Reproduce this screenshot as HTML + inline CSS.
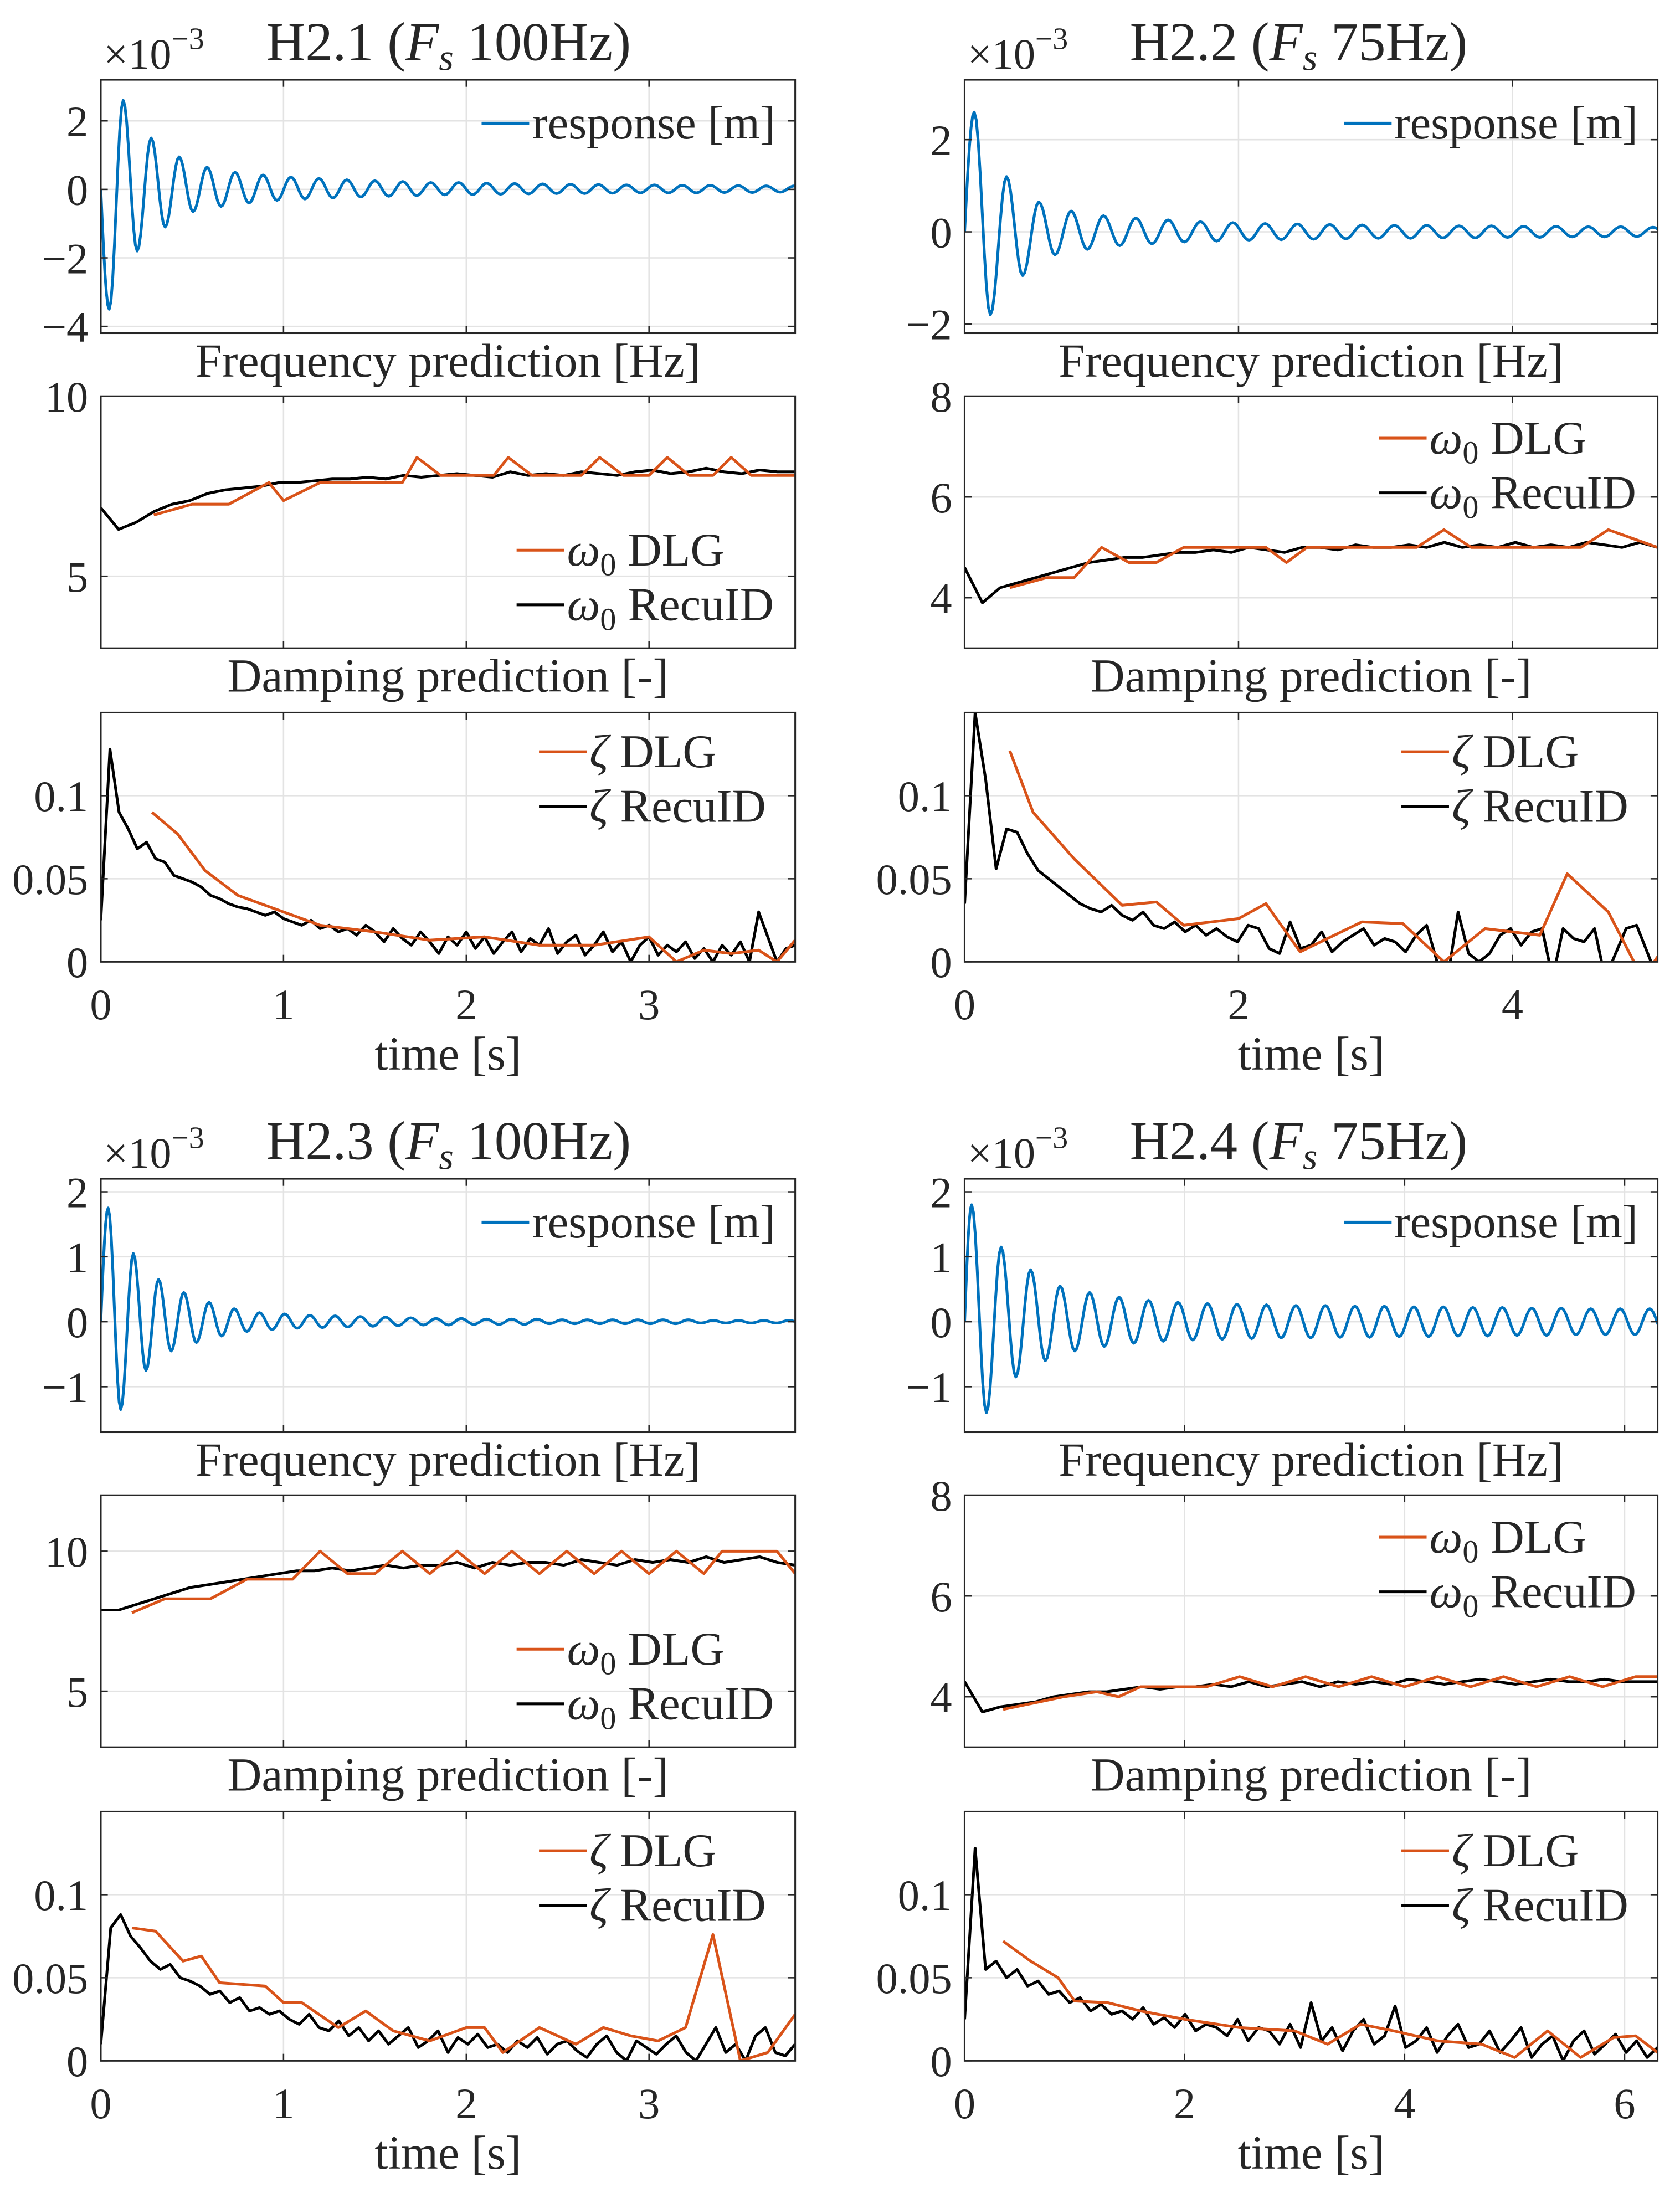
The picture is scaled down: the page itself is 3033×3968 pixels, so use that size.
<!DOCTYPE html>
<html><head><meta charset="utf-8">
<style>
html,body{margin:0;padding:0;background:#fff;}
svg{display:block;}
text{font-family:"Liberation Serif",serif;fill:#262626;}
</style></head>
<body>
<svg id="fig" xmlns="http://www.w3.org/2000/svg" width="3033" height="3968" viewBox="0 0 1200 1570" preserveAspectRatio="none"></svg>
<script>
// ---------- DATA ----------
const resp1 = [-3.5,2.6,-1.8,1.5,-1.1,0.95,-0.65,0.65,-0.5,0.5,-0.4,0.42,-0.32,0.36,-0.28,0.32,-0.25,0.28,-0.22,0.25,-0.2,0.23,-0.18,0.2,-0.16,0.2,-0.15,0.18,-0.14,0.17,-0.13,0.16,-0.12,0.15,-0.12,0.14,-0.11,0.13,-0.1,0.13,-0.1,0.12,-0.1,0.12,-0.09,0.11,-0.09,0.1,-0.08,0.1,-0.08];
const resp1Meta = [0.046, 0.0765];
const resp2 = [2.6,-1.8,1.2,-0.95,0.65,-0.5,0.45,-0.38,0.35,-0.3,0.3,-0.26,0.26,-0.22,0.22,-0.2,0.2,-0.18,0.18,-0.17,0.17,-0.16,0.16,-0.15,0.15,-0.14,0.14,-0.14,0.14,-0.13,0.13,-0.13,0.13,-0.12,0.12,-0.12,0.12,-0.11,0.11,-0.11,0.11,-0.1,0.1,-0.1];
const resp2Meta = [0.07, 0.118];
const resp3 = [1.75,-1.35,1.05,-0.75,0.65,-0.45,0.45,-0.32,0.3,-0.22,0.2,-0.15,0.14,-0.12,0.12,-0.1,0.1,-0.09,0.09,-0.08,0.08,-0.07,0.07,-0.06,0.06,-0.05,0.05,-0.05,0.05,-0.04,0.04,-0.04,0.04,-0.04,0.04,-0.03,0.03,-0.03,0.03,-0.03,0.03,-0.03,0.03,-0.03,0.03,-0.03,0.03,-0.02,0.02,-0.02,0.02,-0.02,0.02,-0.02,0.02,-0.02,0.02];
const resp3Meta = [0.04, 0.069];
const resp4 = [1.8,-1.4,1.15,-0.85,0.8,-0.6,0.55,-0.45,0.45,-0.38,0.38,-0.33,0.33,-0.3,0.3,-0.28,0.28,-0.27,0.27,-0.26,0.26,-0.25,0.25,-0.25,0.25,-0.24,0.24,-0.24,0.24,-0.23,0.23,-0.23,0.23,-0.22,0.22,-0.22,0.22,-0.21,0.21,-0.21,0.21,-0.2,0.2,-0.2,0.2,-0.2,0.2,-0.2,0.2];
const resp4Meta = [0.064, 0.134];

const f1DlgT = [0.29,0.5,0.7,0.92,1.0,1.2,1.5,1.65,1.73,1.86,2.15,2.23,2.36,2.63,2.73,2.86,3.0,3.1,3.22,3.35,3.45,3.56,3.68,3.8];
const f1DlgV = [6.7,7.0,7.0,7.6,7.1,7.6,7.6,7.6,8.3,7.8,7.8,8.3,7.8,7.8,8.3,7.8,7.8,8.3,7.8,7.8,8.3,7.8,7.8,7.8];
const f1Recu = [6.9,6.3,6.5,6.8,7.0,7.1,7.3,7.4,7.45,7.5,7.6,7.6,7.65,7.7,7.7,7.75,7.7,7.8,7.75,7.8,7.85,7.8,7.75,7.9,7.8,7.85,7.8,7.9,7.85,7.8,7.9,7.95,7.85,7.9,8.0,7.9,7.85,7.95,7.9,7.9];
const f2DlgT = [0.33,0.6,0.8,1.0,1.2,1.4,1.6,2.2,2.35,2.5,3.3,3.5,3.7,4.5,4.7,5.06];
const f2DlgV = [4.2,4.4,4.4,5.0,4.7,4.7,5.0,5.0,4.7,5.0,5.0,5.35,5.0,5.0,5.35,5.0];
const f2Recu = [4.6,3.9,4.2,4.3,4.4,4.5,4.6,4.7,4.75,4.8,4.8,4.85,4.9,4.9,4.95,4.9,5.0,4.95,4.9,5.0,5.0,4.95,5.05,5.0,5.0,5.05,5.0,5.1,5.0,5.05,5.0,5.1,5.0,5.05,5.0,5.1,5.05,5.0,5.1,5.0];
const f3DlgT = [0.17,0.35,0.6,0.8,1.05,1.2,1.35,1.5,1.65,1.8,1.95,2.1,2.25,2.4,2.55,2.7,2.85,3.0,3.15,3.3,3.4,3.7,3.8];
const f3DlgV = [7.8,8.3,8.3,9.0,9.0,10.0,9.2,9.2,10.0,9.2,10.0,9.2,10.0,9.2,10.0,9.2,10.0,9.2,10.0,9.2,10.0,10.0,9.2];
const f3Recu = [7.9,7.9,8.1,8.3,8.5,8.7,8.8,8.9,9.0,9.1,9.2,9.3,9.3,9.4,9.3,9.4,9.5,9.4,9.5,9.5,9.6,9.4,9.6,9.5,9.6,9.6,9.5,9.7,9.6,9.5,9.7,9.6,9.7,9.6,9.8,9.6,9.7,9.8,9.6,9.5];
const f4DlgT = [0.35,0.9,1.2,1.4,1.6,2.2,2.5,2.8,3.1,3.4,3.7,4.0,4.3,4.6,4.9,5.2,5.5,5.8,6.1,6.3];
const f4DlgV = [3.75,4.0,4.1,4.0,4.2,4.2,4.4,4.2,4.4,4.2,4.4,4.2,4.4,4.2,4.4,4.2,4.4,4.2,4.4,4.4];
const f4Recu = [4.3,3.7,3.8,3.85,3.9,4.0,4.05,4.1,4.1,4.15,4.2,4.15,4.2,4.2,4.25,4.2,4.3,4.2,4.25,4.3,4.2,4.3,4.25,4.3,4.25,4.35,4.3,4.25,4.3,4.35,4.3,4.25,4.3,4.35,4.3,4.3,4.35,4.3,4.3,4.3];

const d1DlgT = [0.28,0.42,0.57,0.75,1.0,1.2,1.5,1.8,2.1,2.4,2.7,3.0,3.15,3.3,3.45,3.6,3.7,3.8];
const d1DlgV = [0.09,0.077,0.055,0.04,0.03,0.022,0.018,0.013,0.015,0.01,0.01,0.015,0.0,0.007,0.005,0.007,0.0,0.013];
const d1Recu = [0.025,0.128,0.09,0.08,0.068,0.072,0.062,0.06,0.052,0.05,0.048,0.045,0.04,0.038,0.035,0.033,0.032,0.03,0.028,0.03,0.026,0.024,0.022,0.025,0.02,0.022,0.018,0.02,0.016,0.022,0.018,0.012,0.02,0.014,0.01,0.018,0.012,0.005,0.015,0.01,0.018,0.008,0.015,0.005,0.012,0.018,0.006,0.014,0.01,0.02,0.005,0.012,0.016,0.004,0.01,0.018,0.006,0.012,0.0,0.01,0.015,0.004,0.01,0.006,0.012,0.002,0.008,0.0,0.01,0.004,0.012,0.0,0.03,0.015,0.0,0.008,0.01];
const d2DlgT = [0.33,0.5,0.8,1.0,1.15,1.4,1.6,2.0,2.2,2.45,2.9,3.2,3.5,3.8,4.2,4.4,4.7,4.95,5.06];
const d2DlgV = [0.127,0.09,0.062,0.046,0.034,0.036,0.022,0.026,0.035,0.006,0.024,0.023,0.0,0.02,0.016,0.053,0.03,-0.01,0.003];
const d2Recu = [0.035,0.15,0.11,0.056,0.08,0.078,0.065,0.055,0.05,0.045,0.04,0.035,0.032,0.03,0.034,0.028,0.025,0.03,0.022,0.02,0.024,0.018,0.022,0.016,0.02,0.015,0.012,0.022,0.02,0.008,0.005,0.024,0.008,0.01,0.018,0.006,0.012,0.016,0.02,0.01,0.014,0.012,0.006,0.016,0.022,0.0,-0.01,0.03,0.005,0.0,0.005,0.016,0.02,0.01,0.018,0.02,-0.01,0.02,0.014,0.012,0.02,-0.01,0.005,0.02,0.022,0.006,-0.01];
const d3DlgT = [0.17,0.3,0.45,0.55,0.65,0.9,1.0,1.1,1.3,1.45,1.6,1.8,2.0,2.1,2.2,2.4,2.6,2.75,2.9,3.05,3.2,3.35,3.5,3.65,3.8];
const d3DlgV = [0.08,0.078,0.06,0.063,0.047,0.045,0.035,0.035,0.02,0.03,0.018,0.012,0.02,0.02,0.005,0.02,0.01,0.02,0.015,0.012,0.02,0.076,0.0,0.005,0.028];
const d3Recu = [0.01,0.08,0.088,0.075,0.068,0.06,0.055,0.058,0.05,0.048,0.045,0.04,0.042,0.035,0.038,0.03,0.032,0.028,0.03,0.025,0.022,0.028,0.02,0.018,0.024,0.015,0.02,0.012,0.018,0.01,0.015,0.02,0.008,0.012,0.018,0.005,0.014,0.01,0.016,0.008,0.01,0.005,0.012,0.008,0.014,0.004,0.01,0.012,0.006,0.002,0.01,0.015,0.005,0.0,0.012,0.008,0.004,0.01,0.015,0.005,0.0,0.01,0.02,0.005,0.01,0.0,0.015,0.02,0.005,0.003,0.01];
const d4DlgT = [0.35,0.6,0.85,1.0,1.3,1.6,2.0,2.5,3.0,3.3,3.6,3.9,4.3,4.7,5.0,5.3,5.6,5.9,6.1,6.3];
const d4DlgV = [0.072,0.06,0.05,0.036,0.035,0.03,0.025,0.02,0.018,0.01,0.022,0.018,0.012,0.01,0.002,0.018,0.002,0.014,0.015,0.005];
const d4Recu = [0.025,0.128,0.055,0.06,0.05,0.055,0.045,0.048,0.04,0.042,0.035,0.038,0.03,0.034,0.028,0.03,0.025,0.032,0.022,0.026,0.02,0.028,0.018,0.022,0.02,0.015,0.025,0.012,0.02,0.018,0.01,0.022,0.008,0.035,0.012,0.02,0.006,0.018,0.025,0.01,0.015,0.033,0.008,0.012,0.02,0.005,0.015,0.022,0.008,0.01,0.018,0.005,0.012,0.02,0.002,0.01,0.015,0.0,0.012,0.018,0.004,0.01,0.016,0.005,0.012,0.002,0.008];

const xTicks1 = [0,1,2,3], xTicks2 = [0,2,4], xTicks4 = [0,2,4,6];
const xMax = [3.8, 5.06, 3.8, 6.3];

// ---------- DRAWING ----------
const NS = "http://www.w3.org/2000/svg";
const svg = document.getElementById('fig');
const TICK = 31, LAB = 34, LEG = 33.5;
function el(tag, attrs, parent){ const e=document.createElementNS(NS,tag); for(const k in attrs) e.setAttribute(k,attrs[k]); (parent||svg).appendChild(e); return e; }
function txt(str, x, y, size, anchor, parent){ const t=el('text',{x:x,y:y,'font-size':size,'text-anchor':anchor||'start'},parent); t.textContent=str; return t; }
let clipId=0;

function axes(box, xlim, ylim, xticks, yticks, ylabels, showX, name){
  const g = el('g',{});
  
  
  const [x0,y0,x1,y1]=box;
  const sx=v=>x0+(v-xlim[0])/(xlim[1]-xlim[0])*(x1-x0);
  const sy=v=>y1-(v-ylim[0])/(ylim[1]-ylim[0])*(y1-y0);
  el('rect',{x:x0,y:y0,width:x1-x0,height:y1-y0,fill:'#fff'},g);
  xticks.forEach(v=>{ if(v>xlim[0]&&v<xlim[1]) el('line',{x1:sx(v),x2:sx(v),y1:y0,y2:y1,stroke:'#e3e3e3','stroke-width':1},g); });
  yticks.forEach(v=>{ if(v>ylim[0]&&v<ylim[1]) el('line',{x1:x0,x2:x1,y1:sy(v),y2:sy(v),stroke:'#e3e3e3','stroke-width':1},g); });
  const id='c'+(clipId++);
  const cp=el('clipPath',{id:id},g); el('rect',{x:x0,y:y0,width:x1-x0,height:y1-y0},cp);
  const plot=el('g',{'clip-path':'url(#'+id+')'},g);
  const frame=el('rect',{x:x0,y:y0,width:x1-x0,height:y1-y0,fill:'none',stroke:'#262626','stroke-width':1.2},g);
  
  
  xticks.forEach(v=>{ el('line',{x1:sx(v),x2:sx(v),y1:y1,y2:y1-5,stroke:'#262626','stroke-width':1},g); el('line',{x1:sx(v),x2:sx(v),y1:y0,y2:y0+5,stroke:'#262626','stroke-width':1},g);
    if(showX){ const t=txt(String(v),sx(v),y1+41,TICK,'middle',g);
      
       } });
  yticks.forEach((v,i)=>{ el('line',{x1:x0,x2:x0+5,y1:sy(v),y2:sy(v),stroke:'#262626','stroke-width':1},g); el('line',{x1:x1,x2:x1-5,y1:sy(v),y2:sy(v),stroke:'#262626','stroke-width':1},g);
    const t=txt(ylabels[i],x0-9,sy(v)+11,TICK,'end',g);
    
     });
  return {g,plot,sx,sy};
}
function polyline(ax, ts, vs, color, name){
  const pts=ts.map((t,i)=>ax.sx(t).toFixed(2)+','+ax.sy(vs[i]).toFixed(2)).join(' ');
  const p=el('polyline',{points:pts,fill:'none',stroke:color,'stroke-width':2,'stroke-linejoin':'round'},ax.plot);
  
  
}
function linspace(a,b,n){ const r=[]; for(let i=0;i<n;i++) r.push(a+(b-a)*i/(n-1)); return r; }
function respSeries(ext, meta){
  const ts=[0], vs=[0];
  const et=ext.map((_,i)=>meta[0]+i*meta[1]);
  for(let k=1;k<=6;k++){ const f=k/6; ts.push(et[0]*f); vs.push(ext[0]*Math.sin(f*Math.PI/2)); }
  for(let i=1;i<ext.length;i++){ for(let k=1;k<=8;k++){ const f=k/8; const w=(1-Math.cos(f*Math.PI))/2; ts.push(et[i-1]+(et[i]-et[i-1])*f); vs.push(ext[i-1]+(ext[i]-ext[i-1])*w); } }
  return [ts,vs];
}
function legendEntry(x, y, color, label, sub, rest, name){
  const g=el('g',{});
  
  
  el('line',{x1:x,x2:x+34,y1:y,y2:y,stroke:color,'stroke-width':2},g);
  const t=el('text',{x:x+36,y:y+11,'font-size':LEG},g);
  if(sub){ const a=el('tspan',{'font-style':'italic'},t); a.textContent=label;
    const b=el('tspan',{'font-size':23,dy:7},t); b.textContent=sub;
    const c=el('tspan',{dy:-7},t); c.textContent=rest; }
  else if(label==='ζ'){ const a=el('tspan',{'font-style':'italic'},t); a.textContent='ζ'; const c=el('tspan',{},t); c.textContent=rest; }
  else { t.textContent=label; }
}

const cols=[{x0:72,x1:568},{x0:689,x1:1184}];
const panels=[
 {id:'h2-1',title:'H2.1',fs:'100Hz',col:0,off:0,resp:resp1,rm:resp1Meta,rlim:[-4.2,3.2],rt:[-4,-2,0,2],rl:['−4','−2','0','2'],
  flim:[3,10],ft:[5,10],fl:['5','10'],fDT:f1DlgT,fDV:f1DlgV,fR:f1Recu,fLeg:'bottom',dDT:d1DlgT,dDV:d1DlgV,dR:d1Recu,xt:xTicks1,xm:xMax[0]},
 {id:'h2-2',title:'H2.2',fs:'75Hz',col:1,off:0,resp:resp2,rm:resp2Meta,rlim:[-2.2,3.3],rt:[-2,0,2],rl:['−2','0','2'],
  flim:[3,8],ft:[4,6,8],fl:['4','6','8'],fDT:f2DlgT,fDV:f2DlgV,fR:f2Recu,fLeg:'top',dDT:d2DlgT,dDV:d2DlgV,dR:d2Recu,xt:xTicks2,xm:xMax[1]},
 {id:'h2-3',title:'H2.3',fs:'100Hz',col:0,off:785,resp:resp3,rm:resp3Meta,rlim:[-1.7,2.2],rt:[-1,0,1,2],rl:['−1','0','1','2'],
  flim:[3,12],ft:[5,10],fl:['5','10'],fDT:f3DlgT,fDV:f3DlgV,fR:f3Recu,fLeg:'bottom',dDT:d3DlgT,dDV:d3DlgV,dR:d3Recu,xt:xTicks1,xm:xMax[2]},
 {id:'h2-4',title:'H2.4',fs:'75Hz',col:1,off:785,resp:resp4,rm:resp4Meta,rlim:[-1.7,2.2],rt:[-1,0,1,2],rl:['−1','0','1','2'],
  flim:[3,8],ft:[4,6,8],fl:['4','6','8'],fDT:f4DlgT,fDV:f4DlgV,fR:f4Recu,fLeg:'top',dDT:d4DlgT,dDV:d4DlgV,dR:d4Recu,xt:xTicks4,xm:xMax[3]}
];

panels.forEach(p=>{
  const c=cols[p.col], o=p.off, cx=(c.x0+c.x1)/2;
  const tt=el('text',{x:c.x0+118,y:o+43,'font-size':39});
  
  
  const a=el('tspan',{},tt); a.textContent=p.title+' (';
  const b=el('tspan',{'font-style':'italic'},tt); b.textContent='F';
  const s=el('tspan',{'font-style':'italic','font-size':27,dy:7},tt); s.textContent='s';
  const r=el('tspan',{dy:-7},tt); r.textContent=' '+p.fs+')';
  const ex=el('text',{x:c.x0+2,y:o+49,'font-size':31});
  
  
  const e1=el('tspan',{},ex); e1.textContent='×10';
  const e2=el('tspan',{'font-size':22,dy:-14},ex); e2.textContent='−3';

  const ar=axes([c.x0,o+57,c.x1,o+238],[0,p.xm],p.rlim,p.xt,p.rt,p.rl,false,p.id+'-response-axes');
  const [rt,rv]=respSeries(p.resp,p.rm);
  polyline(ar,rt,rv,'#0072BD',p.id+'-response-line');
  legendEntry(c.x1-224,o+88,'#0072BD','response [m]',null,null,p.id+'-response-legend');

  const ft=txt('Frequency prediction [Hz]',cx,o+269,LAB,'middle');
  
  
  const af=axes([c.x0,o+283,c.x1,o+463],[0,p.xm],p.flim,p.xt,p.ft,p.fl,false,p.id+'-frequency-axes');
  polyline(af,linspace(0,p.xm,p.fR.length),p.fR,'#000',p.id+'-frequency-recuid-line');
  polyline(af,p.fDT,p.fDV,'#D95319',p.id+'-frequency-dlg-line');
  const ly=p.fLeg==='top'?o+313:o+393;
  legendEntry(c.x1-199,ly,'#D95319','ω','0',' DLG',p.id+'-frequency-dlg-legend');
  legendEntry(c.x1-199,ly+39,'#000','ω','0',' RecuID',p.id+'-frequency-recuid-legend');

  const dt=txt('Damping prediction [-]',cx,o+494,LAB,'middle');
  
  
  const ad=axes([c.x0,o+509,c.x1,o+687],[0,p.xm],[0,0.15],p.xt,[0,0.05,0.1],['0','0.05','0.1'],true,p.id+'-damping-axes');
  polyline(ad,linspace(0,p.xm,p.dR.length),p.dR,'#000',p.id+'-damping-recuid-line');
  polyline(ad,p.dDT,p.dDV,'#D95319',p.id+'-damping-dlg-line');
  legendEntry(c.x1-183,o+537,'#D95319','ζ',null,' DLG',p.id+'-damping-dlg-legend');
  legendEntry(c.x1-183,o+576,'#000','ζ',null,' RecuID',p.id+'-damping-recuid-legend');
  const xl=txt('time [s]',cx,o+764,LAB,'middle');
  
  
});
</script>
</body></html>
